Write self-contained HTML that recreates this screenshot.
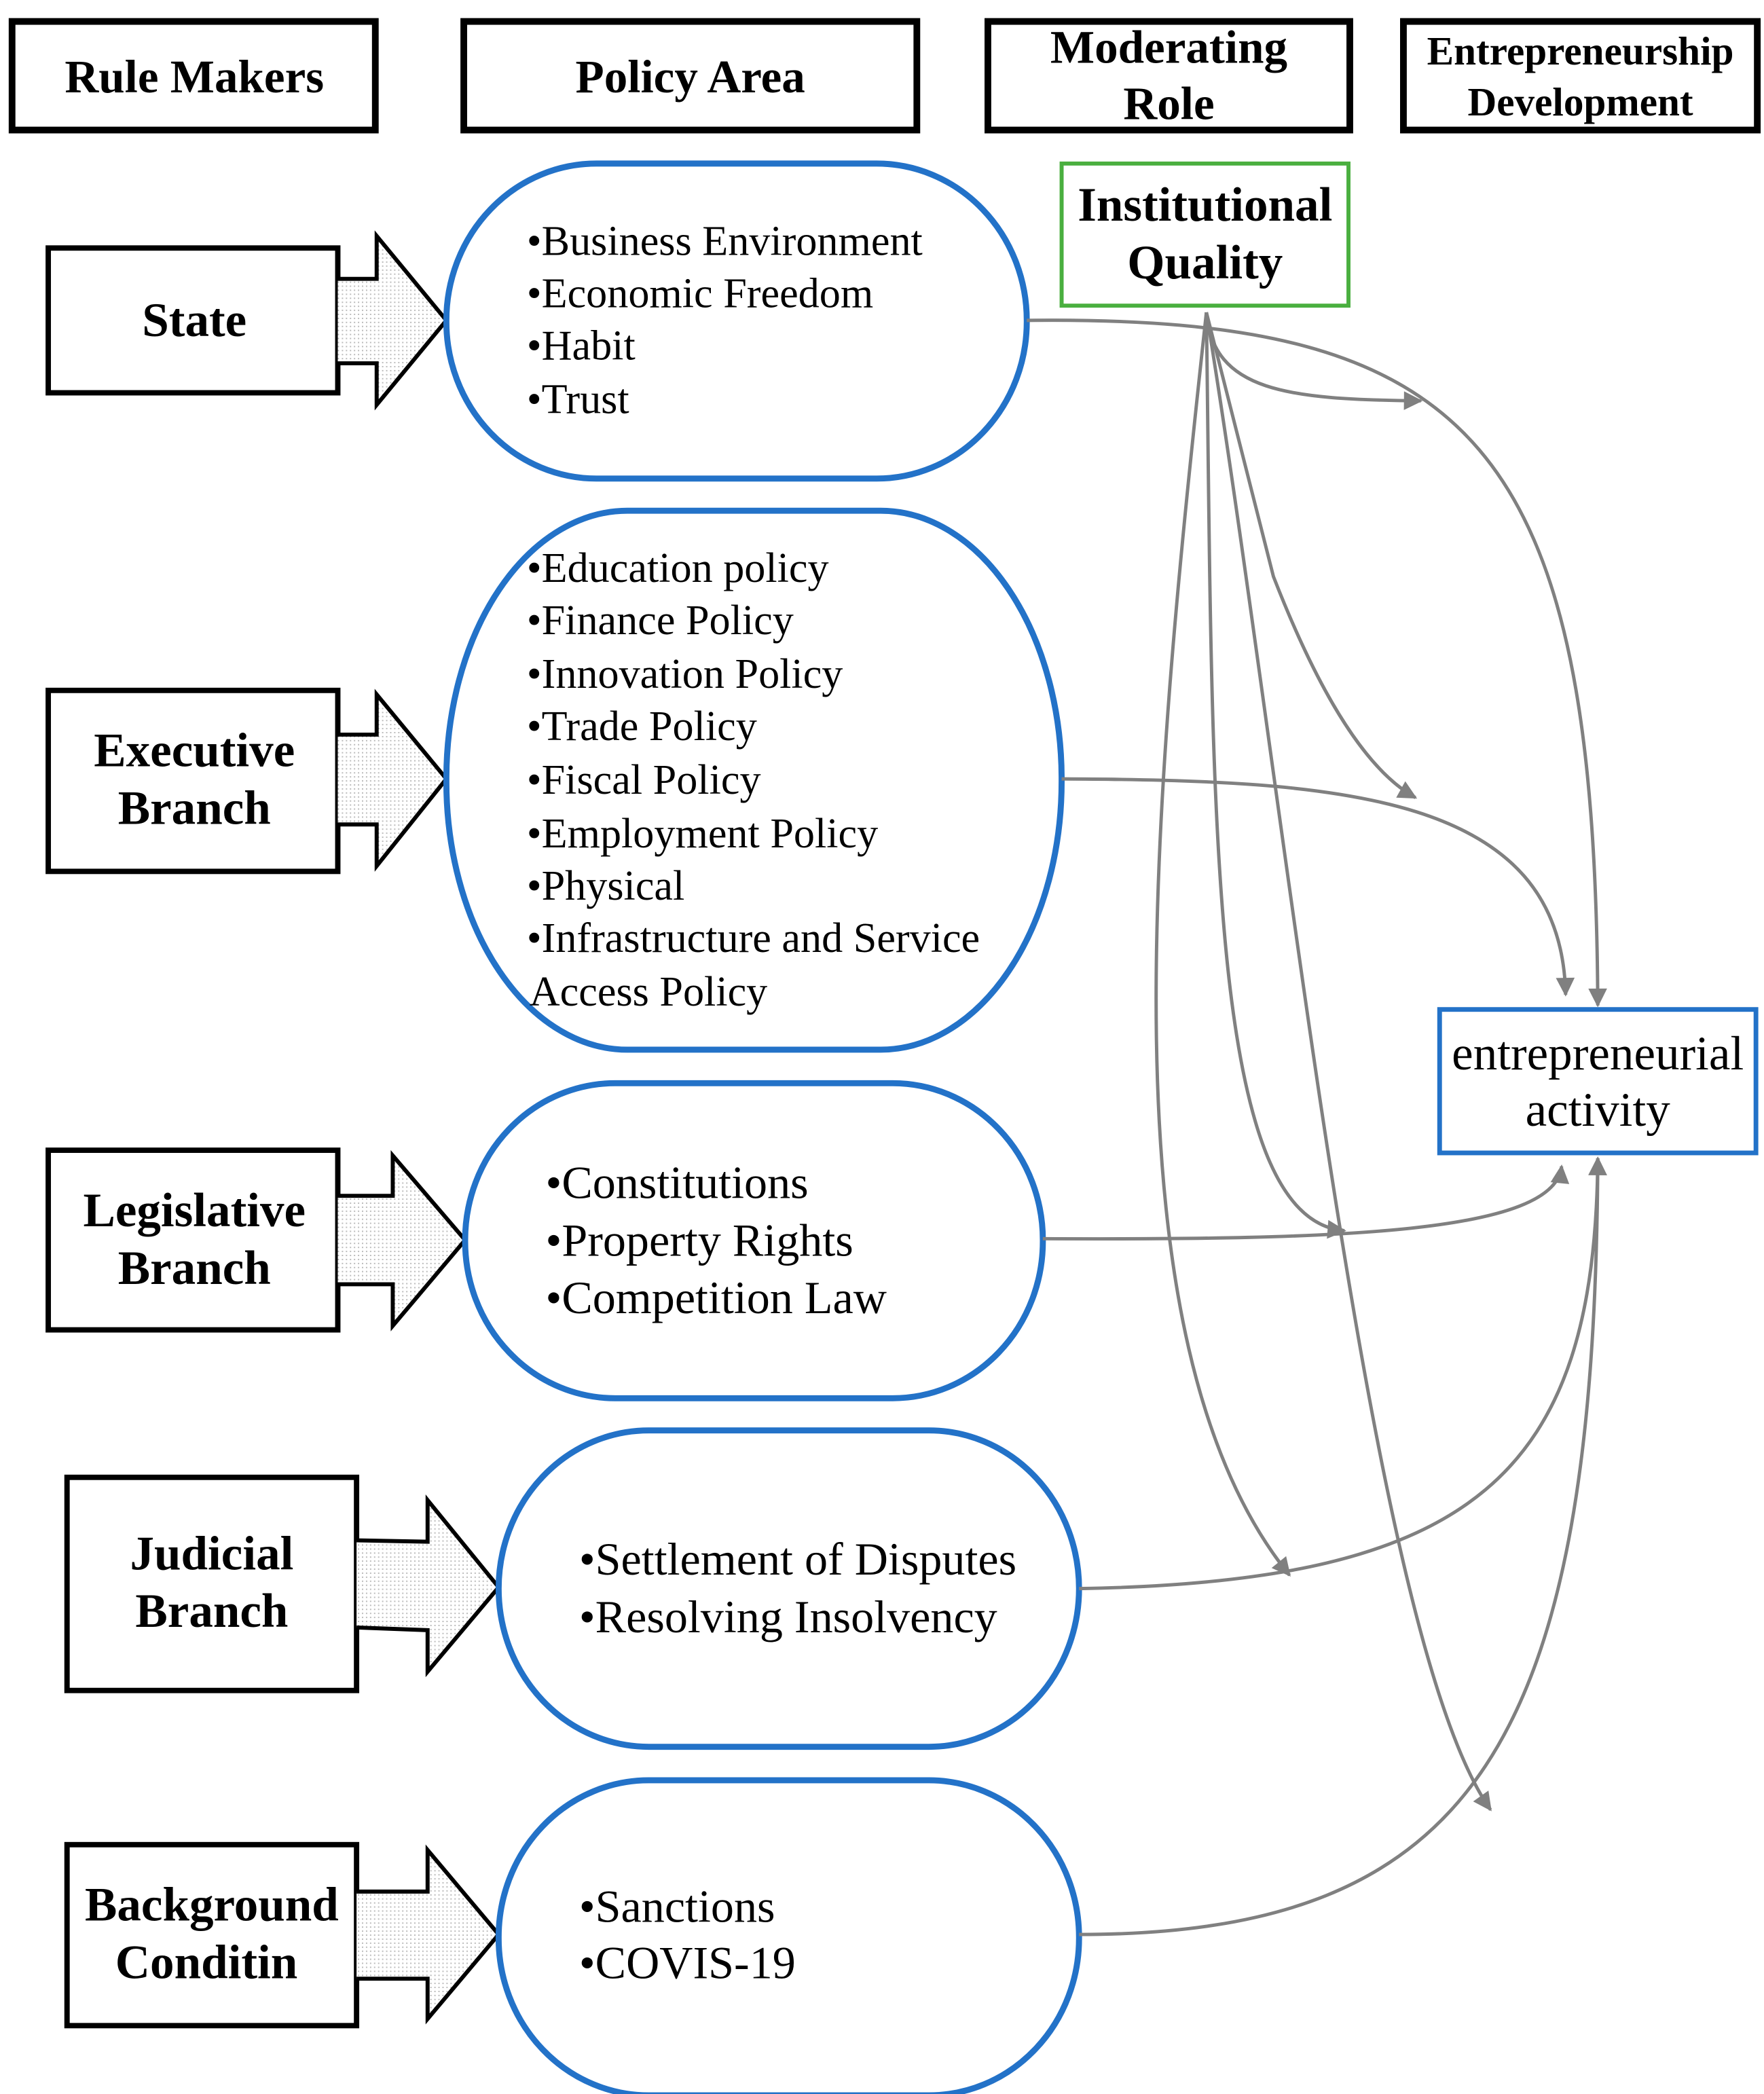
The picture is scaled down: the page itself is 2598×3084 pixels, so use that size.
<!DOCTYPE html>
<html><head><meta charset="utf-8">
<style>
html,body{margin:0;padding:0;background:#fff;}
svg{display:block;}
text{font-family:"Liberation Serif",serif;fill:#000;}
.h{font-weight:bold;font-size:35px;text-anchor:middle;dominant-baseline:central;}
.l{font-weight:bold;font-size:36px;text-anchor:middle;dominant-baseline:central;}
.b{font-size:31.5px;dominant-baseline:central;}
.bb{font-size:34.5px;dominant-baseline:central;}
.c{fill:none;stroke:#808080;stroke-width:2.5;}
</style></head><body>
<svg width="2598" height="3084" viewBox="0 0 1316 1562" preserveAspectRatio="none" xmlns="http://www.w3.org/2000/svg">
<defs>
<pattern id="dots" width="3" height="3" patternUnits="userSpaceOnUse"><rect width="3" height="3" fill="#fff"/><rect width="1" height="1" fill="#bbb"/></pattern>
<marker id="a" viewBox="0 0 10 10" refX="9" refY="5" markerWidth="22" markerHeight="14" markerUnits="userSpaceOnUse" orient="auto"><path d="M0,0 L10,5 L0,10 Z" fill="#808080"/></marker>
</defs>

<g fill="none" stroke="#000" stroke-width="5">
<rect x="9" y="16" width="271" height="81"/>
<rect x="346" y="16" width="338" height="81"/>
<rect x="737" y="16" width="270" height="81"/>
<rect x="1047" y="16" width="264" height="81"/>
</g>
<text class="h" x="145" y="57">Rule Makers</text>
<text class="h" x="515" y="57">Policy Area</text>
<text class="h" x="872" y="35">Moderating</text>
<text class="h" x="872" y="77">Role</text>
<text class="h" x="1179" y="38" style="font-size:30px">Entrepreneurship</text>
<text class="h" x="1179" y="76" style="font-size:30px">Development</text>

<rect x="792" y="122" width="214" height="106" fill="none" stroke="#4aaf3f" stroke-width="3"/>
<text class="l" x="899" y="153">Institutional</text>
<text class="l" x="899" y="196">Quality</text>

<rect x="1074" y="753" width="236" height="107" fill="none" stroke="#2372c8" stroke-width="3.5"/>
<text class="l" x="1192" y="786" style="font-weight:normal">entrepreneurial</text>
<text class="l" x="1192" y="828" style="font-weight:normal">activity</text>

<g fill="#fff" stroke="#000" stroke-width="4">
<rect x="36" y="185" width="216" height="108"/>
<rect x="36" y="515" width="216" height="135"/>
<rect x="36" y="858" width="216" height="134"/>
<rect x="50" y="1102" width="216" height="159"/>
<rect x="50" y="1376" width="216" height="135"/>
</g>
<text class="l" x="145" y="239">State</text>
<text class="l" x="145" y="560">Executive</text>
<text class="l" x="145" y="603">Branch</text>
<text class="l" x="145" y="903">Legislative</text>
<text class="l" x="145" y="946">Branch</text>
<text class="l" x="158" y="1159">Judicial</text>
<text class="l" x="158" y="1202">Branch</text>
<text class="l" x="158" y="1421">Background</text>
<text class="l" x="154" y="1464">Conditin</text>

<g fill="url(#dots)" stroke="#000" stroke-width="3">
<path d="M252,208 L281,208 L281,176 L333,239 L281,302 L281,271 L252,271"/>
<path d="M252,548 L281,548 L281,518 L333,581 L281,646 L281,615 L252,615"/>
<path d="M252,892 L293,892 L293,862 L347,925 L293,989 L293,958 L252,958"/>
<path d="M266,1149 L319,1150 L319,1119 L372,1184 L319,1247 L319,1216 L266,1214"/>
<path d="M266,1411 L319,1411 L319,1380 L372,1443 L319,1506 L319,1476 L266,1476"/>
</g>

<g fill="#fff" stroke="#2372c8" stroke-width="4.5">
<rect x="333" y="122" width="433" height="235" rx="112" ry="117"/>
<rect x="333" y="381" width="459" height="402" rx="135" ry="200"/>
<rect x="347" y="808" width="431" height="235" rx="112" ry="117"/>
<rect x="372" y="1067" width="433" height="236" rx="112" ry="118"/>
<rect x="372" y="1328" width="433" height="235" rx="112" ry="117"/>
</g>
<text class="b" x="393" y="180">•Business Environment</text>
<text class="b" x="393" y="219">•Economic Freedom</text>
<text class="b" x="393" y="258">•Habit</text>
<text class="b" x="393" y="298">•Trust</text>
<text class="b" x="393" y="424">•Education policy</text>
<text class="b" x="393" y="463">•Finance Policy</text>
<text class="b" x="393" y="503">•Innovation Policy</text>
<text class="b" x="393" y="542">•Trade Policy</text>
<text class="b" x="393" y="582">•Fiscal Policy</text>
<text class="b" x="393" y="622">•Employment Policy</text>
<text class="b" x="393" y="661">•Physical</text>
<text class="b" x="393" y="700">•Infrastructure and Service</text>
<text class="b" x="395" y="740">Access Policy</text>
<text class="bb" x="407" y="882">•Constitutions</text>
<text class="bb" x="407" y="925">•Property Rights</text>
<text class="bb" x="407" y="968">•Competition Law</text>
<text class="bb" x="432" y="1163">•Settlement of Disputes</text>
<text class="bb" x="432" y="1206">•Resolving Insolvency</text>
<text class="bb" x="432" y="1422">•Sanctions</text>
<text class="bb" x="432" y="1464">•COVIS-19</text>

<g class="c">
<path d="M766,239 C1100,235 1190,330 1192,750" marker-end="url(#a)"/>
<path d="M900,233 C905,292 960,298 1060,299" marker-end="url(#a)"/>
<path d="M900,233 L950,430 C985,520 1020,575 1056,595" marker-end="url(#a)"/>
<path d="M792,581 C1000,582 1165,592 1168,742" marker-end="url(#a)"/>
<path d="M900,233 C905,600 900,910 1003,918" marker-end="url(#a)"/>
<path d="M778,924 C1000,925 1160,920 1165,870" marker-end="url(#a)"/>
<path d="M900,233 C860,600 820,1000 962,1175" marker-end="url(#a)"/>
<path d="M805,1185 C1100,1180 1190,1100 1192,864" marker-end="url(#a)"/>
<path d="M900,233 C960,600 1020,1220 1112,1350" marker-end="url(#a)"/>
<path d="M805,1443 C1100,1443 1190,1300 1192,864" marker-end="url(#a)"/>
</g>
</svg>
</body></html>
